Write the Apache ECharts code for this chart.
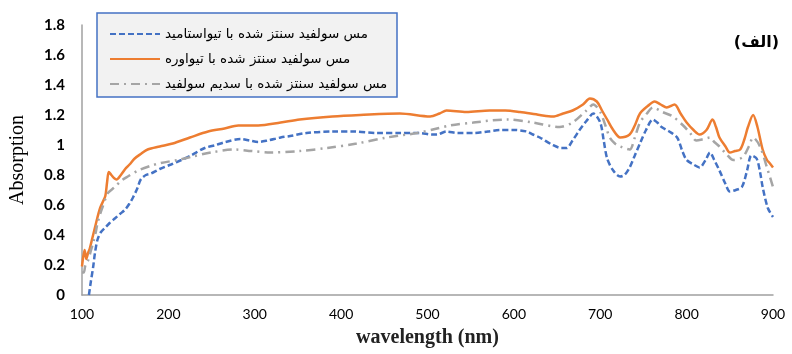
<!DOCTYPE html>
<html><head><meta charset="utf-8">
<script src="https://cdn.jsdelivr.net/npm/echarts@6/dist/echarts.min.js"></script>
<style>html,body{margin:0;padding:0;background:#fff}#c{width:792px;height:354px}</style>
</head><body><div id="c"></div>
<script>
const seriesNames = ['مس سولفید سنتز شده با تیواستامید','مس سولفید سنتز شده با تیواوره','مس سولفید سنتز شده با سدیم سولفید'];
const xTicks = {min:100, max:900, interval:100};
const yTicks = {min:0, max:1.8, interval:0.2};

const blueX = [108,110,113,115,118,122,127,132,138,144,150,155,159,164,168,174,180,190,203,215,226,242,255,266,284,294,304,315,330,341,360,390,415,441,468,491,505,511,522,535,553,570,584,600,615,622,630,645,655,661,668,676,684,692,700,704,708,715,723,728,734,740,746,753,761,766,771,780,789,795,800,808,815,822,827,832,838,845,850,857,864,870,875,881,885,888,894,900];
const blueY = [0.0,0.08,0.19,0.28,0.37,0.42,0.45,0.48,0.51,0.54,0.57,0.61,0.65,0.71,0.77,0.80,0.81,0.84,0.87,0.90,0.93,0.98,1.00,1.02,1.04,1.03,1.02,1.03,1.05,1.06,1.08,1.09,1.09,1.08,1.08,1.08,1.07,1.07,1.09,1.08,1.08,1.09,1.10,1.10,1.09,1.07,1.05,1.00,0.98,0.98,1.03,1.10,1.16,1.21,1.15,1.03,0.91,0.83,0.79,0.80,0.85,0.93,1.01,1.10,1.17,1.15,1.12,1.09,1.05,0.96,0.90,0.87,0.85,0.90,0.95,0.90,0.83,0.74,0.69,0.70,0.72,0.83,0.93,0.91,0.82,0.72,0.58,0.52];

const orangeX = [100,103,105,107,109,112,115,118,121,124,127,129,131,134,137,140,145,150,155,161,168,176,190,205,225,246,265,281,304,330,352,390,422,468,503,514,522,545,572,590,607,630,645,657,668,680,688,696,702,708,715,723,734,740,746,755,763,770,777,786,793,800,808,815,823,830,834,838,845,850,856,862,867,871,877,882,888,893,896,900];
const orangeY = [0.19,0.30,0.24,0.28,0.31,0.38,0.45,0.52,0.58,0.62,0.66,0.75,0.82,0.80,0.78,0.77,0.80,0.84,0.87,0.91,0.94,0.97,0.99,1.01,1.05,1.09,1.11,1.13,1.13,1.15,1.17,1.19,1.20,1.21,1.19,1.21,1.23,1.22,1.23,1.23,1.22,1.20,1.19,1.21,1.23,1.27,1.31,1.29,1.23,1.17,1.10,1.05,1.07,1.13,1.21,1.26,1.29,1.27,1.25,1.27,1.21,1.15,1.10,1.07,1.10,1.17,1.12,1.05,0.99,0.95,0.96,0.97,1.04,1.12,1.20,1.12,0.97,0.90,0.88,0.85];

const grayX = [100,102,104,107,110,113,116,118,121,124,127,130,138,145,153,165,179,191,211,226,249,277,296,318,352,384,418,453,488,511,526,553,592,622,653,668,684,692,700,706,711,717,723,734,740,746,754,761,772,784,796,804,811,820,827,832,838,846,854,865,872,877,885,893,900];
const grayY = [0.15,0.15,0.20,0.23,0.29,0.35,0.42,0.48,0.54,0.59,0.64,0.68,0.72,0.76,0.79,0.83,0.86,0.88,0.90,0.92,0.95,0.97,0.96,0.95,0.96,0.98,1.01,1.05,1.08,1.11,1.13,1.15,1.17,1.15,1.12,1.15,1.23,1.27,1.22,1.13,1.05,1.01,0.99,0.97,1.05,1.15,1.21,1.25,1.22,1.19,1.13,1.08,1.03,1.04,1.05,1.02,0.99,0.94,0.90,0.92,0.99,1.05,0.99,0.85,0.72];

const pair = (xs, ys) => xs.map((x, i) => [x, ys[i]]);

const chart = echarts.init(document.getElementById('c'), null, {renderer:'canvas'});
chart.setOption({
  animation:false,
  backgroundColor:'#fff',
  grid:{left:82, right:19, top:25, bottom:59},
  title:{text:'(الف)', right:8, top:30, textStyle:{fontFamily:'DejaVu Sans', fontSize:16, fontWeight:'bold', color:'#000'}},
  graphic:[{type:'rect', z:0, shape:{x:97, y:13, width:300, height:84}, style:{fill:'#f2f2f2', stroke:'#4472C4', lineWidth:1.5}}],
  legend:{
    orient:'vertical', left:104, top:22, itemWidth:50, itemHeight:14, itemGap:11, z:5,
    itemStyle:{opacity:0},
    textStyle:{fontFamily:'DejaVu Sans', fontSize:13.5, color:'#000'},
    data:seriesNames
  },
  xAxis:{type:'value', min:xTicks.min, max:xTicks.max, interval:xTicks.interval,
    name:'wavelength (nm)', nameLocation:'middle', nameGap:33,
    nameTextStyle:{fontFamily:'Liberation Serif', fontSize:20, fontWeight:'bold', color:'#222'},
    axisLine:{show:true, lineStyle:{color:'#a0a0a0', width:1.5}},
    axisTick:{show:false}, splitLine:{show:false},
    axisLabel:{margin:12, fontFamily:'Lato', fontSize:14, color:'#000'}},
  yAxis:{type:'value', min:yTicks.min, max:yTicks.max, interval:yTicks.interval,
    name:'Absorption', nameLocation:'middle', nameGap:54,
    nameTextStyle:{fontFamily:'Liberation Serif', fontSize:20, color:'#000'},
    axisLine:{show:true, lineStyle:{color:'#a0a0a0', width:1.5}},
    axisTick:{show:false}, splitLine:{show:false},
    axisLabel:{margin:17, fontFamily:'Lato', fontSize:15, fontWeight:'bold', color:'#000'}},
  series:[
    {name:seriesNames[0], type:'line', data:pair(blueX, blueY), showSymbol:false, symbol:'none', smooth:0.3,
      color:'#4472C4', lineStyle:{color:'#4472C4', width:2.5, type:[6,3]}},
    {name:seriesNames[1], type:'line', data:pair(orangeX, orangeY), showSymbol:false, symbol:'none', smooth:0.3,
      color:'#ED7D31', lineStyle:{color:'#ED7D31', width:2.5, type:'solid'}},
    {name:seriesNames[2], type:'line', data:pair(grayX, grayY), showSymbol:false, symbol:'none', smooth:0.3,
      color:'#A5A5A5', lineStyle:{color:'#A5A5A5', width:2.5, type:[9,5,2,5]}}
  ]
});
</script></body></html>
